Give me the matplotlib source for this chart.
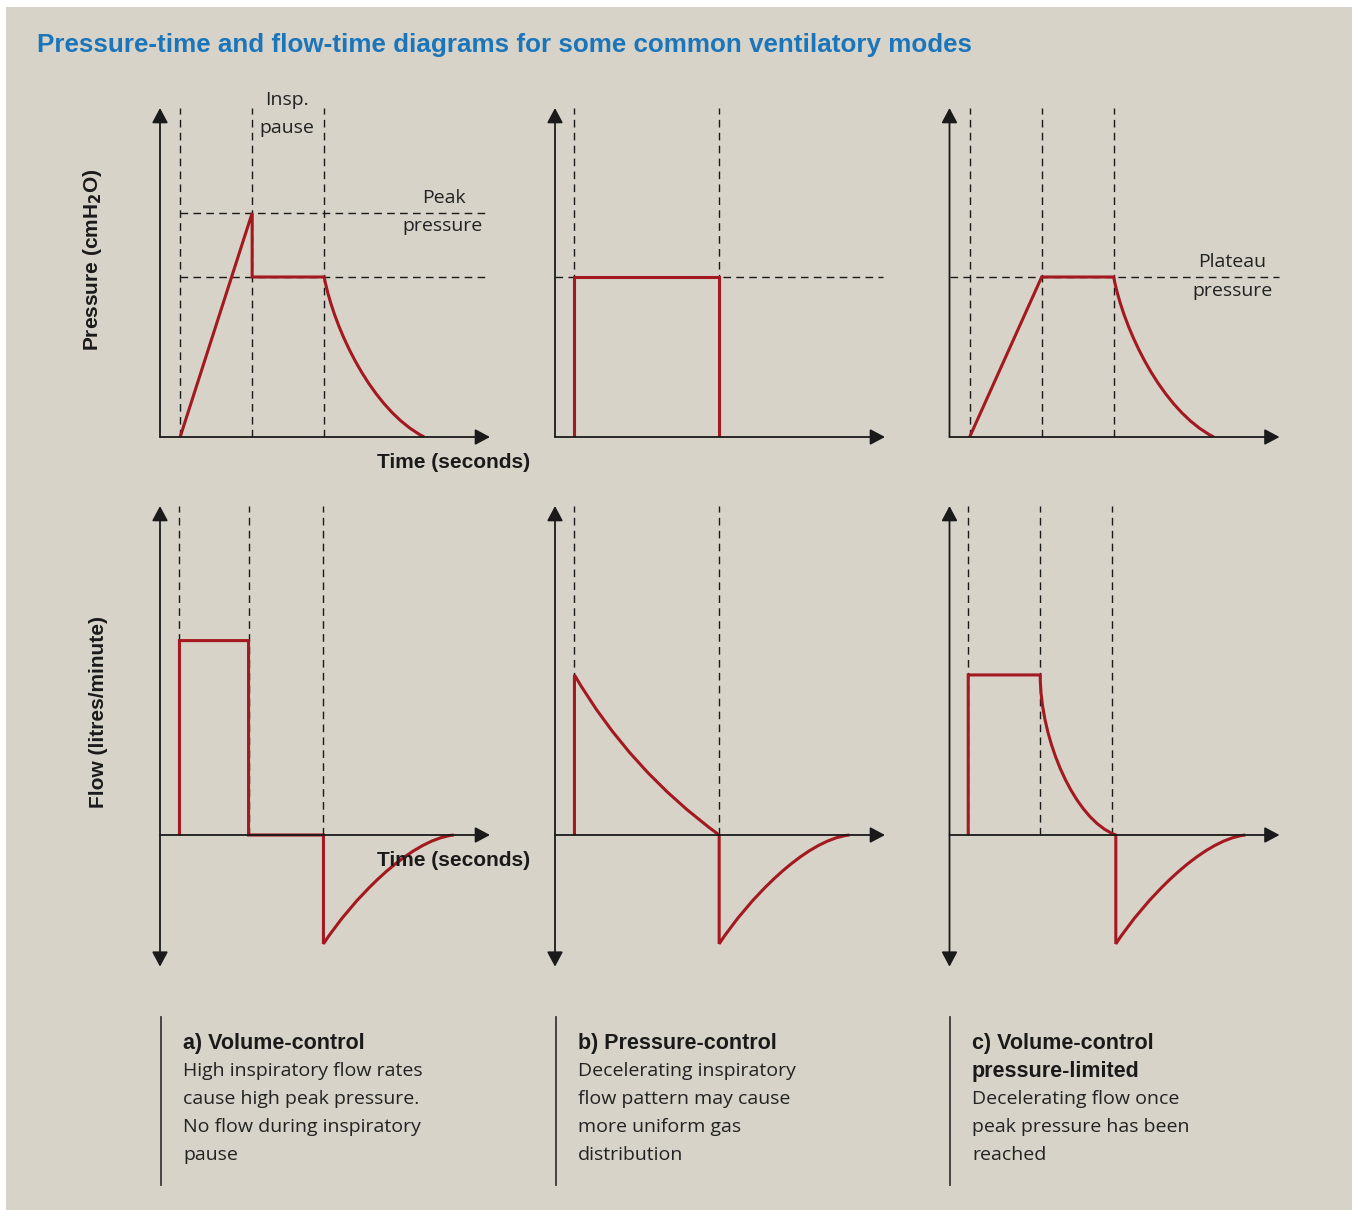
import numpy as np
import matplotlib.pyplot as plt
from matplotlib.path import Path
from matplotlib.patches import PathPatch, Rectangle
from matplotlib.lines import Line2D

# ---- waveform data (time in s, pressure in cmH2O, flow in L/min) ----

# a) volume-control
pa_t = [0.28, 1.28, 1.28, 2.28]
pa_p = [0, 28, 20, 20]
pa_decay = [(2.42, 13.4), (2.95, 3.3), (3.67, 0)]      # bezier controls + end
pa_marks = [0.28, 1.28, 2.28]
pa_levels = [28, 20]

fa_t = [0.27, 0.27, 1.23, 1.23, 2.27, 2.27]
fa_f = [0, 60, 60, 0, 0, -33.6]
fa_exp = [(2.66, -20.4), (3.45, -1.5), (4.08, 0)]
fa_marks = [0.27, 1.23, 2.27]

# b) pressure-control
pb_t = [0.27, 0.27, 2.28, 2.28]
pb_p = [0, 20, 20, 0]
pb_marks = [0.27, 2.28]
pb_levels = [20]

fb_t = [0.27, 0.27]
fb_f = [0, 49.4]
fb_decel = [(1.04, 20.1), (2.28, 0)]
fb_drop_t = [2.28]
fb_drop_f = [-33.6]
fb_exp = [(2.67, -20.4), (3.46, -1.5), (4.09, 0)]
fb_marks = [0.27, 2.28]

# c) volume-control pressure-limited
pc_t = [0.28, 1.28, 2.28]
pc_p = [0, 20, 20]
pc_decay = [(2.42, 13.4), (2.95, 3.3), (3.67, 0)]
pc_marks = [0.28, 1.28, 2.28]
pc_levels = [20]

fc_t = [0.26, 0.26, 1.26]
fc_f = [0, 49.4, 49.4]
fc_decel = [(1.26, 29.3), (1.74, 4.6), (2.31, 0)]
fc_drop_t = [2.31]
fc_drop_f = [-33.6]
fc_exp = [(2.70, -20.4), (3.49, -1.5), (4.11, 0)]
fc_marks = [0.26, 1.26, 2.26]

captions = [
    ("a) Volume-control", ["High inspiratory flow rates", "cause high peak pressure.",
                           "No flow during inspiratory", "pause"]),
    ("b) Pressure-control", ["Decelerating inspiratory", "flow pattern may cause",
                             "more uniform gas", "distribution"]),
    ("c) Volume-control\npressure-limited", ["Decelerating flow once",
                                             "peak pressure has been", "reached"]),
]

# ---- style ----
W, H = 1354, 1210
BG = '#d7d3c8'
RED = '#a3191f'
INK = '#1a1a1a'
BLUE = '#1b75bb'
BOLD = 'Liberation Sans'
REG = 'Open Sans'
DASH = (0, (5.5, 3.8))

XMAX = 330 / 72
P_TOP = 329 / 8
F_TOP = 329 / 3.24
F_BOT = -131.7 / 3.24

fig = plt.figure(figsize=(W / 100, H / 100), dpi=100)
fig.patch.set_facecolor('white')
fig.add_artist(Rectangle((6 / W, 0), 1346 / W, 1203 / H, facecolor=BG,
                         edgecolor='none', zorder=-10))


def fx(px):
    return px / W


def fy(py):
    return 1 - py / H


def make_ax(x0, top, bottom, ylim):
    ax = fig.add_axes([fx(x0), fy(bottom), 330 / W, (bottom - top) / H])
    ax.set_xlim(0, XMAX)
    ax.set_ylim(*ylim)
    ax.axis('off')
    return ax


def axis_arrows(ax, flow=False):
    head = dict(color=INK, lw=1.3, shrinkA=0, shrinkB=0, mutation_scale=10)
    style = '-|>,head_length=0.9,head_width=0.48'
    ax.annotate('', xy=(XMAX, 0), xytext=(0, 0), annotation_clip=False,
                arrowprops=dict(arrowstyle=style, **head))
    if flow:
        ax.annotate('', xy=(0, F_TOP), xytext=(0, F_BOT), annotation_clip=False,
                    arrowprops=dict(arrowstyle='<|-|>,head_length=0.9,head_width=0.48', **head))
    else:
        ax.annotate('', xy=(0, P_TOP), xytext=(0, 0), annotation_clip=False,
                    arrowprops=dict(arrowstyle=style, **head))


def trace(ax, pieces):
    # pieces: list of (code, points)
    verts, codes = [], []
    for code, pts in pieces:
        for p in pts:
            verts.append(p)
            codes.append(code)
    codes[0] = Path.MOVETO
    ax.add_patch(PathPatch(Path(verts, codes), fill=False, edgecolor=RED,
                           lw=2.2, joinstyle='miter', capstyle='butt', zorder=3))


cols = [160, 555, 949.5]

# ---- pressure row ----
ax = make_ax(cols[0], 108, 437, (0, P_TOP))
ax.vlines(pa_marks, 0, P_TOP, colors=INK, lw=1.0, linestyles=DASH)
ax.hlines(pa_levels, pa_marks[0], 4.61, colors=INK, lw=1.0, linestyles=DASH)
trace(ax, [(Path.LINETO, list(zip(pa_t, pa_p))), (Path.CURVE4, pa_decay)])
axis_arrows(ax)

ax = make_ax(cols[1], 108, 437, (0, P_TOP))
ax.vlines(pb_marks, 0, P_TOP, colors=INK, lw=1.0, linestyles=DASH)
ax.hlines(pb_levels, 0, 4.56, colors=INK, lw=1.0, linestyles=DASH)
trace(ax, [(Path.LINETO, list(zip(pb_t, pb_p)))])
axis_arrows(ax)

ax = make_ax(cols[2], 108, 437, (0, P_TOP))
ax.vlines(pc_marks, 0, P_TOP, colors=INK, lw=1.0, linestyles=DASH)
ax.hlines(pc_levels, 0, 4.58, colors=INK, lw=1.0, linestyles=DASH)
trace(ax, [(Path.LINETO, list(zip(pc_t, pc_p))), (Path.CURVE4, pc_decay)])
axis_arrows(ax)

# ---- flow row ----
ax = make_ax(cols[0], 506, 966.7, (F_BOT, F_TOP))
ax.vlines(fa_marks, 0, F_TOP, colors=INK, lw=1.0, linestyles=DASH)
trace(ax, [(Path.LINETO, list(zip(fa_t, fa_f))), (Path.CURVE4, fa_exp)])
axis_arrows(ax, flow=True)

ax = make_ax(cols[1], 506, 966.7, (F_BOT, F_TOP))
ax.vlines(fb_marks, 0, F_TOP, colors=INK, lw=1.0, linestyles=DASH)
trace(ax, [(Path.LINETO, list(zip(fb_t, fb_f))), (Path.CURVE3, fb_decel),
           (Path.LINETO, list(zip(fb_drop_t, fb_drop_f))), (Path.CURVE4, fb_exp)])
axis_arrows(ax, flow=True)

ax = make_ax(cols[2], 506, 966.7, (F_BOT, F_TOP))
ax.vlines(fc_marks, 0, F_TOP, colors=INK, lw=1.0, linestyles=DASH)
trace(ax, [(Path.LINETO, list(zip(fc_t, fc_f))), (Path.CURVE4, fc_decel),
           (Path.LINETO, list(zip(fc_drop_t, fc_drop_f))), (Path.CURVE4, fc_exp)])
axis_arrows(ax, flow=True)

# ---- text ----
fig.text(fx(37), fy(45), 'Pressure-time and flow-time diagrams for some common ventilatory modes',
         color=BLUE, fontsize=18.7, fontweight='bold', family=BOLD, va='center')

fig.text(fx(92), fy(260), r'Pressure (cmH$_\mathbf{2}$O)', rotation=90, fontsize=15,
         fontweight='bold', family=BOLD, color=INK, ha='center', va='center')
fig.text(fx(98), fy(712), 'Flow (litres/minute)', rotation=90, fontsize=15,
         fontweight='bold', family=BOLD, color=INK, ha='center', va='center')
for yy in [462, 860]:
    fig.text(fx(530), fy(yy), 'Time (seconds)', fontsize=15, fontweight='bold',
             family=BOLD, color=INK, ha='right', va='center')

for txt, xx, yy in [('Insp.', 287, 100), ('pause', 287, 128), ('Peak', 444, 198),
                    ('pressure', 443, 226), ('Plateau', 1232, 262), ('pressure', 1232, 291)]:
    fig.text(fx(xx), fy(yy), txt, fontsize=14, family=REG, color='#222222',
             ha='center', va='center')

# captions with left rule
for i, (head, lines) in enumerate(captions):
    x0 = [161, 556, 950][i]
    fig.add_artist(Line2D([fx(x0), fx(x0)], [fy(1017), fy(1185)], color='#3a3a3a', lw=1.3))
    yy = 1043
    for hl in head.split('\n'):
        fig.text(fx(x0 + 22), fy(yy), hl, fontsize=15.5, fontweight='bold', family=BOLD,
                 color=INK, va='center')
        yy += 28
    for ln in lines:
        fig.text(fx(x0 + 22), fy(yy), ln, fontsize=14, family=REG, color='#222222',
                 va='center')
        yy += 28

fig.savefig('out.png', dpi=100, facecolor=fig.get_facecolor())
